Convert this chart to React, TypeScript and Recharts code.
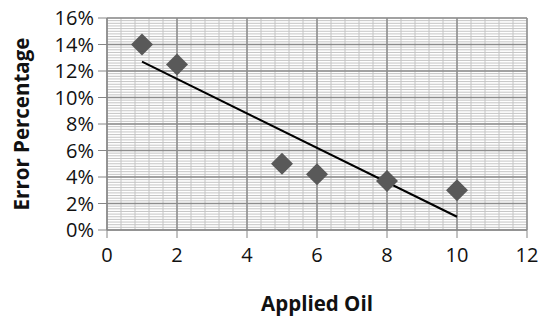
import { ReferenceLine, Scatter, ScatterChart, XAxis, YAxis } from "recharts";

// measured points: applied oil vs error %
const appliedOil = [1, 2, 5, 6, 8, 10];
const errorPct = [14, 12.5, 5, 4.2, 3.7, 3];

// linear trendline endpoints
const trendX = [1, 10];
const trendY = [12.7, 1.0];

const xTicks = [0, 2, 4, 6, 8, 10, 12];
const yTicks = [0, 2, 4, 6, 8, 10, 12, 14, 16];

const points = appliedOil.map((x, i) => ({ x, y: errorPct[i] }));
const trend = trendX.map((x, i) => ({ x, y: trendY[i] }));

// minor gridline positions (0.4 on x, 0.2% on y)
const minorX = Array.from({ length: 31 }, (_, i) => +(i * 0.4).toFixed(2));
const minorY = Array.from({ length: 81 }, (_, i) => +(i * 0.2).toFixed(2));

const font = "'Open Sans', 'Noto Sans', sans-serif";
const tickStyle = { fontSize: 20, fill: "#111", fontFamily: font };
const labelStyle = { fontSize: 20.5, fontWeight: 700, fill: "#111", fontFamily: font };

const Diamond = (props: any) => {
  const { cx, cy } = props;
  if (cx == null || cy == null) return null;
  const r = 11;
  return (
    <path
      d={`M${cx},${cy - r} L${cx + r},${cy} L${cx},${cy + r} L${cx - r},${cy} Z`}
      fill="#595959"
    />
  );
};

export default function App() {
  return (
    <div style={{ position: "absolute", left: 0, top: 0, background: "#fff" }}>
      <ScatterChart width={546} height={317} margin={{ top: 18, right: 19, left: 0, bottom: 0 }}>
        <XAxis
          type="number"
          dataKey="x"
          domain={[0, 12]}
          ticks={xTicks}
          interval={0}
          height={87}
          tick={tickStyle}
          tickSize={8}
          tickMargin={10}
          stroke="#868686"
          label={{ value: "Applied Oil", position: "insideBottom", offset: 6, style: labelStyle }}
        />
        <YAxis
          type="number"
          dataKey="y"
          domain={[0, 16]}
          ticks={yTicks}
          interval={0}
          width={107}
          tick={tickStyle}
          tickSize={9}
          tickMargin={4}
          tickFormatter={(v) => `${v}%`}
          stroke="#868686"
          label={{
            value: "Error Percentage",
            angle: -90,
            position: "insideLeft",
            offset: 22,
            style: { ...labelStyle, textAnchor: "middle" },
          }}
        />
        {minorX.map((v) => (
          <ReferenceLine key={`mx${v}`} x={v} stroke="#c4c4c4" strokeWidth={1} />
        ))}
        {minorY.map((v) => (
          <ReferenceLine key={`my${v}`} y={v} stroke="#c4c4c4" strokeWidth={1} />
        ))}
        {xTicks.map((v) => (
          <ReferenceLine key={`X${v}`} x={v} stroke="#8c8c8c" strokeWidth={1.5} />
        ))}
        {yTicks.map((v) => (
          <ReferenceLine key={`Y${v}`} y={v} stroke="#8c8c8c" strokeWidth={1.5} />
        ))}
        <Scatter data={trend} line={{ stroke: "#000", strokeWidth: 2 }} shape={() => null} isAnimationActive={false} />
        <Scatter data={points} shape={<Diamond />} isAnimationActive={false} />
      </ScatterChart>
    </div>
  );
}
